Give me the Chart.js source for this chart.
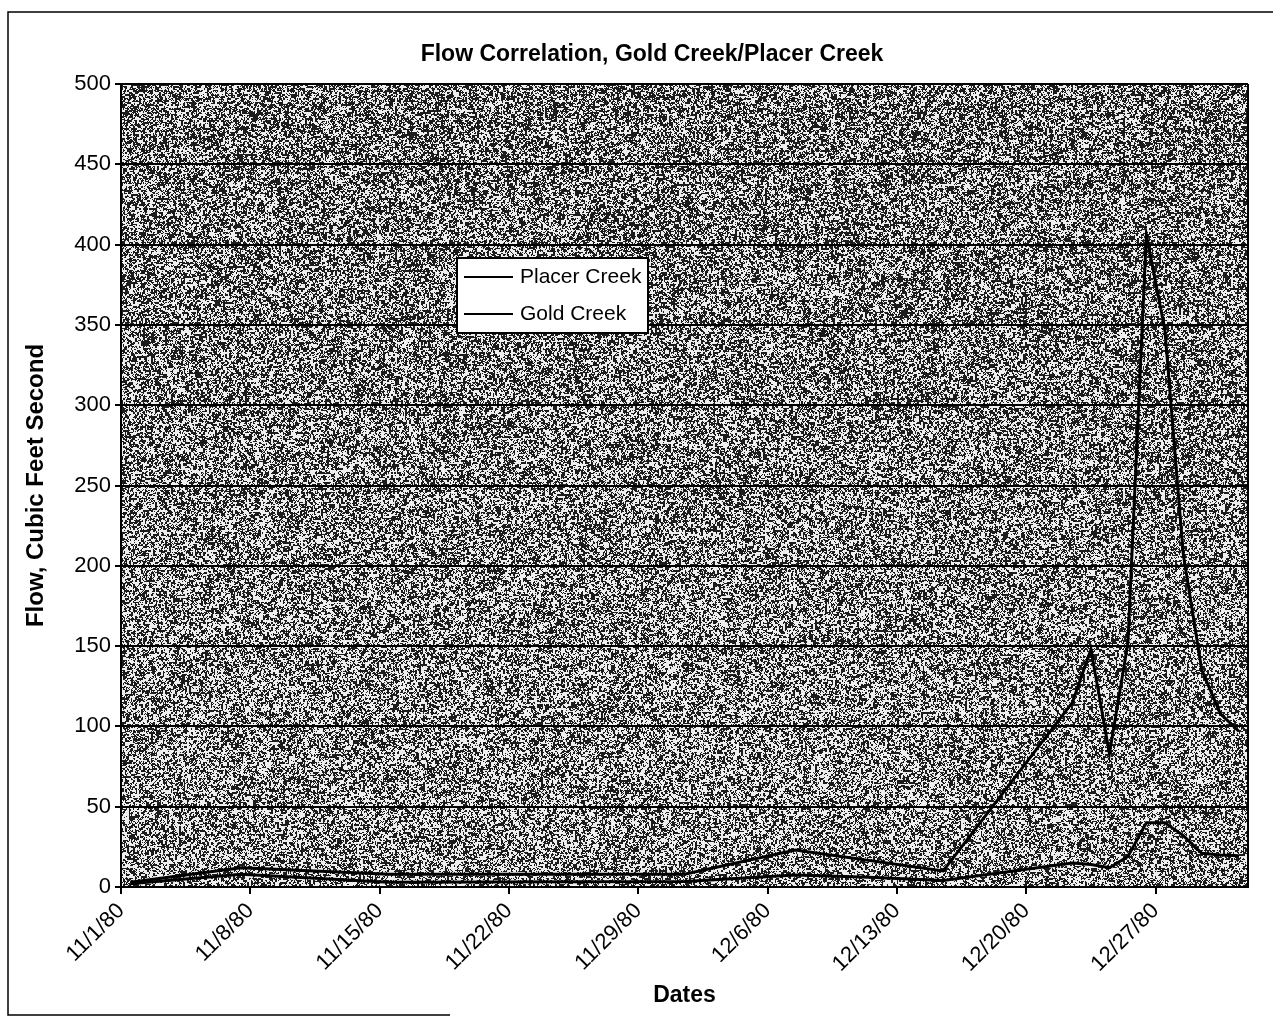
<!DOCTYPE html>
<html>
<head>
<meta charset="utf-8">
<title>Flow Correlation, Gold Creek/Placer Creek</title>
<script src="https://cdn.jsdelivr.net/npm/chart.js@4.4.1/dist/chart.umd.min.js"></script>
<style>
  html, body { margin: 0; padding: 0; background: #fff; }
  canvas { display: block; }
</style>
</head>
<body>
<canvas id="flowChart" width="1273" height="1019"></canvas>
<script>
const chartTitle = 'Flow Correlation, Gold Creek/Placer Creek';

// Date range of the x axis (each day occupies one unit, 11/1/80 through 12/31/80)
const axisStart = '11/1/80';
const axisEnd = '1/1/81';
const tickDates = ['11/1/80', '11/8/80', '11/15/80', '11/22/80', '11/29/80', '12/6/80', '12/13/80', '12/20/80', '12/27/80'];

// Placer Creek flow, cubic feet per second
const placerDates = ['11/1/80', '11/7/80', '11/15/80', '12/1/80', '12/7/80', '12/15/80', '12/22/80', '12/23/80',
                     '12/24/80', '12/25/80', '12/26/80', '12/27/80', '12/28/80', '12/29/80', '12/30/80', '12/31/80'];
const placerFlow  = [3, 12, 8, 8, 23, 10, 115, 148, 83, 152, 406, 347, 207, 135, 108, 97];

// Gold Creek flow, cubic feet per second
const goldDates = ['11/1/80', '11/7/80', '11/15/80', '12/1/80', '12/7/80', '12/11/80', '12/15/80', '12/22/80', '12/23/80',
                   '12/24/80', '12/25/80', '12/26/80', '12/27/80', '12/28/80', '12/29/80', '12/30/80', '12/31/80'];
const goldFlow  = [2, 8, 3, 3.5, 7.5, 6, 4, 15, 14, 12, 19, 40, 40, 32, 21, 20, 19.5];

// Flow axis
const flowMin = 0;
const flowMax = 500;
const flowStep = 50;

function parseDate(s) {
  const [m, d, y] = s.split('/').map(Number);
  return Date.UTC(1900 + y, m - 1, d);
}
function dayOf(s) {
  return Math.round((parseDate(s) - parseDate(axisStart)) / 86400000);
}
// A daily reading sits in the middle of its day
function series(dates, values) {
  return dates.map((d, i) => ({ x: dayOf(d) + 0.5, y: values[i] }));
}

// Speckled grey fill of the plot area
function makeGrain(w, h) {
  const c = document.createElement('canvas');
  c.width = w; c.height = h;
  const g = c.getContext('2d');
  const img = g.createImageData(w, h);
  const d = img.data;
  const hash = (x, y) => {
    let n = (Math.imul(x, 374761393) + Math.imul(y, 668265263)) | 0;
    n = Math.imul(n ^ (n >>> 13), 1274126177);
    n ^= n >>> 16;
    return (n >>> 0) / 4294967296;
  };
  for (let y = 0; y < h; y++) {
    const t = 0.53 - 0.05 * (y / h);
    for (let x = 0; x < w; x++) {
      const v = 0.45 * hash(x, y) + 0.55 * hash((x >> 1) + 7919, (y >> 1) + 104729);
      const s = v < t ? 28 : 238;
      const k = (y * w + x) * 4;
      d[k] = d[k + 1] = d[k + 2] = s;
      d[k + 3] = 255;
    }
  }
  g.putImageData(img, 0, 0);
  return c;
}

const grainPlugin = {
  id: 'grain',
  beforeDraw(chart) {
    const { ctx, chartArea: a } = chart;
    ctx.save();
    ctx.fillStyle = '#fff';
    ctx.fillRect(0, 0, chart.width, chart.height);
    if (!chart.$grain) chart.$grain = makeGrain(Math.ceil(a.right - a.left), Math.ceil(a.bottom - a.top));
    ctx.drawImage(chart.$grain, a.left, a.top);
    ctx.restore();
  }
};

const framePlugin = {
  id: 'frame',
  afterDraw(chart) {
    const { ctx, chartArea: a } = chart;
    ctx.save();
    ctx.strokeStyle = '#000';
    ctx.lineWidth = 2;
    ctx.beginPath();
    ctx.moveTo(a.right, a.top);
    ctx.lineTo(a.right, a.bottom);
    ctx.stroke();
    // chart-area outline
    ctx.lineWidth = 1.5;
    ctx.beginPath();
    ctx.moveTo(chart.width, 12);
    ctx.lineTo(8, 12);
    ctx.lineTo(8, 1015);
    ctx.lineTo(450, 1015);
    ctx.stroke();
    // chart title
    ctx.fillStyle = '#000';
    ctx.font = 'bold 23px "Liberation Sans", Arial, sans-serif';
    ctx.textAlign = 'center';
    ctx.textBaseline = 'middle';
    ctx.fillText(chartTitle, 652, 55);
    ctx.restore();
  }
};

const boxLegendPlugin = {
  id: 'boxLegend',
  afterDraw(chart) {
    const { ctx } = chart;
    const x = 457, y = 258, w = 191, h = 75;
    ctx.save();
    ctx.fillStyle = '#fff';
    ctx.fillRect(x, y, w, h);
    ctx.strokeStyle = '#000';
    ctx.lineWidth = 2;
    ctx.strokeRect(x, y, w, h);
    ctx.font = '21px "Liberation Sans", Arial, sans-serif';
    ctx.textBaseline = 'middle';
    ctx.textAlign = 'left';
    chart.data.datasets.forEach((ds, i) => {
      const cy = y + 19 + i * 37;
      ctx.strokeStyle = ds.borderColor;
      ctx.lineWidth = 2;
      ctx.beginPath();
      ctx.moveTo(x + 7, cy);
      ctx.lineTo(x + 56, cy);
      ctx.stroke();
      ctx.fillStyle = '#000';
      ctx.fillText(ds.label, x + 63, cy);
    });
    ctx.restore();
  }
};

Chart.defaults.font.family = '"Liberation Sans", Arial, sans-serif';
Chart.defaults.color = '#000';

new Chart(document.getElementById('flowChart'), {
  type: 'line',
  data: {
    datasets: [
      { label: 'Placer Creek', data: series(placerDates, placerFlow), borderColor: '#000', borderWidth: 3,
        pointRadius: 0, tension: 0, fill: false, borderJoinStyle: 'miter' },
      { label: 'Gold Creek', data: series(goldDates, goldFlow), borderColor: '#000', borderWidth: 3,
        pointRadius: 0, tension: 0, fill: false, borderJoinStyle: 'miter' }
    ]
  },
  options: {
    responsive: false,
    animation: false,
    devicePixelRatio: 1,
    layout: { padding: { left: 10, right: 25, top: 84, bottom: 10 } },
    plugins: {
      legend: { display: false },
      tooltip: { enabled: false },
      title: { display: false }
    },
    scales: {
      x: {
        type: 'linear',
        min: dayOf(axisStart),
        max: dayOf(axisEnd),
        afterBuildTicks: s => { s.ticks = tickDates.map(d => ({ value: dayOf(d) })); },
        afterFit: s => { s.height = 122; },
        ticks: {
          autoSkip: false,
          minRotation: 45,
          maxRotation: 45,
          color: '#000',
          font: { size: 22 },
          padding: 4,
          callback: (v, i) => tickDates[i]
        },
        grid: { drawOnChartArea: false, drawTicks: true, tickLength: 7, color: '#000', lineWidth: 2 },
        border: { display: true, color: '#000', width: 2 },
        title: { display: true, text: 'Dates', color: '#000', font: { size: 23, weight: 'bold' }, padding: { top: 0, bottom: 0 } }
      },
      y: {
        min: flowMin,
        max: flowMax,
        afterFit: s => { s.width = 111; },
        ticks: { stepSize: flowStep, color: '#000', font: { size: 22 }, padding: 4 },
        grid: { color: '#000', lineWidth: 2, tickLength: 6 },
        border: { display: true, color: '#000', width: 2 },
        title: { display: true, text: 'Flow, Cubic Feet Second', color: '#000', font: { size: 24, weight: 'bold' }, padding: { top: 12, bottom: 0 } }
      }
    }
  },
  plugins: [grainPlugin, framePlugin, boxLegendPlugin]
});
</script>
</body>
</html>
